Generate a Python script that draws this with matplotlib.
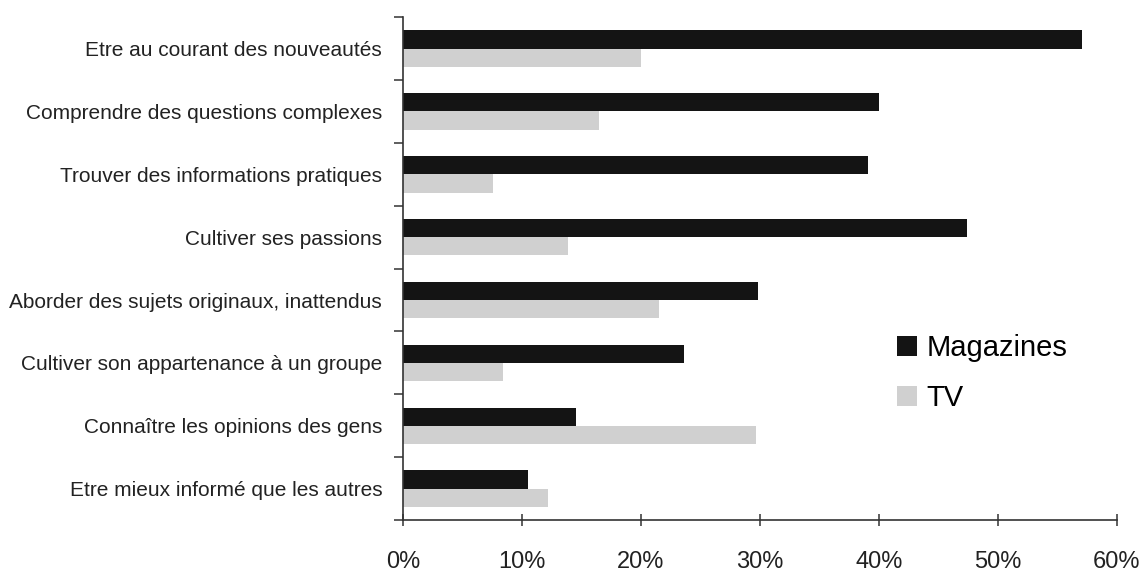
import numpy as np
import matplotlib.pyplot as plt
from matplotlib.ticker import FixedLocator, PercentFormatter

plt.rcParams['font.family'] = ['Liberation Sans', 'DejaVu Sans']

# categories, top to bottom
categories = [
    "Etre au courant des nouveautés",
    "Comprendre des questions complexes",
    "Trouver des informations pratiques",
    "Cultiver ses passions",
    "Aborder des sujets originaux, inattendus",
    "Cultiver son appartenance à un groupe",
    "Connaître les opinions des gens",
    "Etre mieux informé que les autres",
]
magazines = [57.1, 40.0, 39.1, 47.4, 29.8, 23.6, 14.5, 10.5]
tv = [20.0, 16.5, 7.6, 13.9, 21.5, 8.4, 29.7, 12.2]
series_names = ["Magazines", "TV"]
xticks = [0, 10, 20, 30, 40, 50, 60]

fig = plt.figure(figsize=(11.45, 5.74), dpi=100)
ax = fig.add_axes([0.352, 0.094, 0.6235, 0.876])

y = np.arange(len(categories))[::-1]
h = 0.29
ax.barh(y + h / 2, magazines, height=h, color='#141414', label=series_names[0])
ax.barh(y - h / 2, tv, height=h, color='#d0d0d0', label=series_names[1])

ax.set_xlim(0, 60)
ax.set_ylim(-0.5, len(categories) - 0.5)
ax.set_xticks(xticks)
ax.xaxis.set_major_formatter(PercentFormatter(decimals=0))
ax.set_yticks(y)
ax.set_yticklabels(categories)
ax.yaxis.set_minor_locator(FixedLocator(np.arange(len(categories) + 1) - 0.5))

for s in ['top', 'right']:
    ax.spines[s].set_visible(False)
for s in ['left', 'bottom']:
    ax.spines[s].set_color('#333333')
    ax.spines[s].set_linewidth(1.2)

ax.tick_params(axis='y', which='major', length=0, pad=15, labelsize=15, labelcolor='#222222')
ax.tick_params(axis='y', which='minor', length=6.5, width=1.1, color='#333333', direction='out')
ax.tick_params(axis='x', direction='inout', length=8, width=1.1, color='#333333',
               pad=18, labelsize=17, labelcolor='#222222')

ax.legend(loc='upper left', bbox_to_anchor=(0.7834, 0.418), bbox_transform=fig.transFigure,
          frameon=False, fontsize=21, handlelength=0.7, handleheight=0.7,
          handletextpad=0.3, labelspacing=0.75, borderpad=0, borderaxespad=0)

fig.savefig('out.png', dpi=100)
